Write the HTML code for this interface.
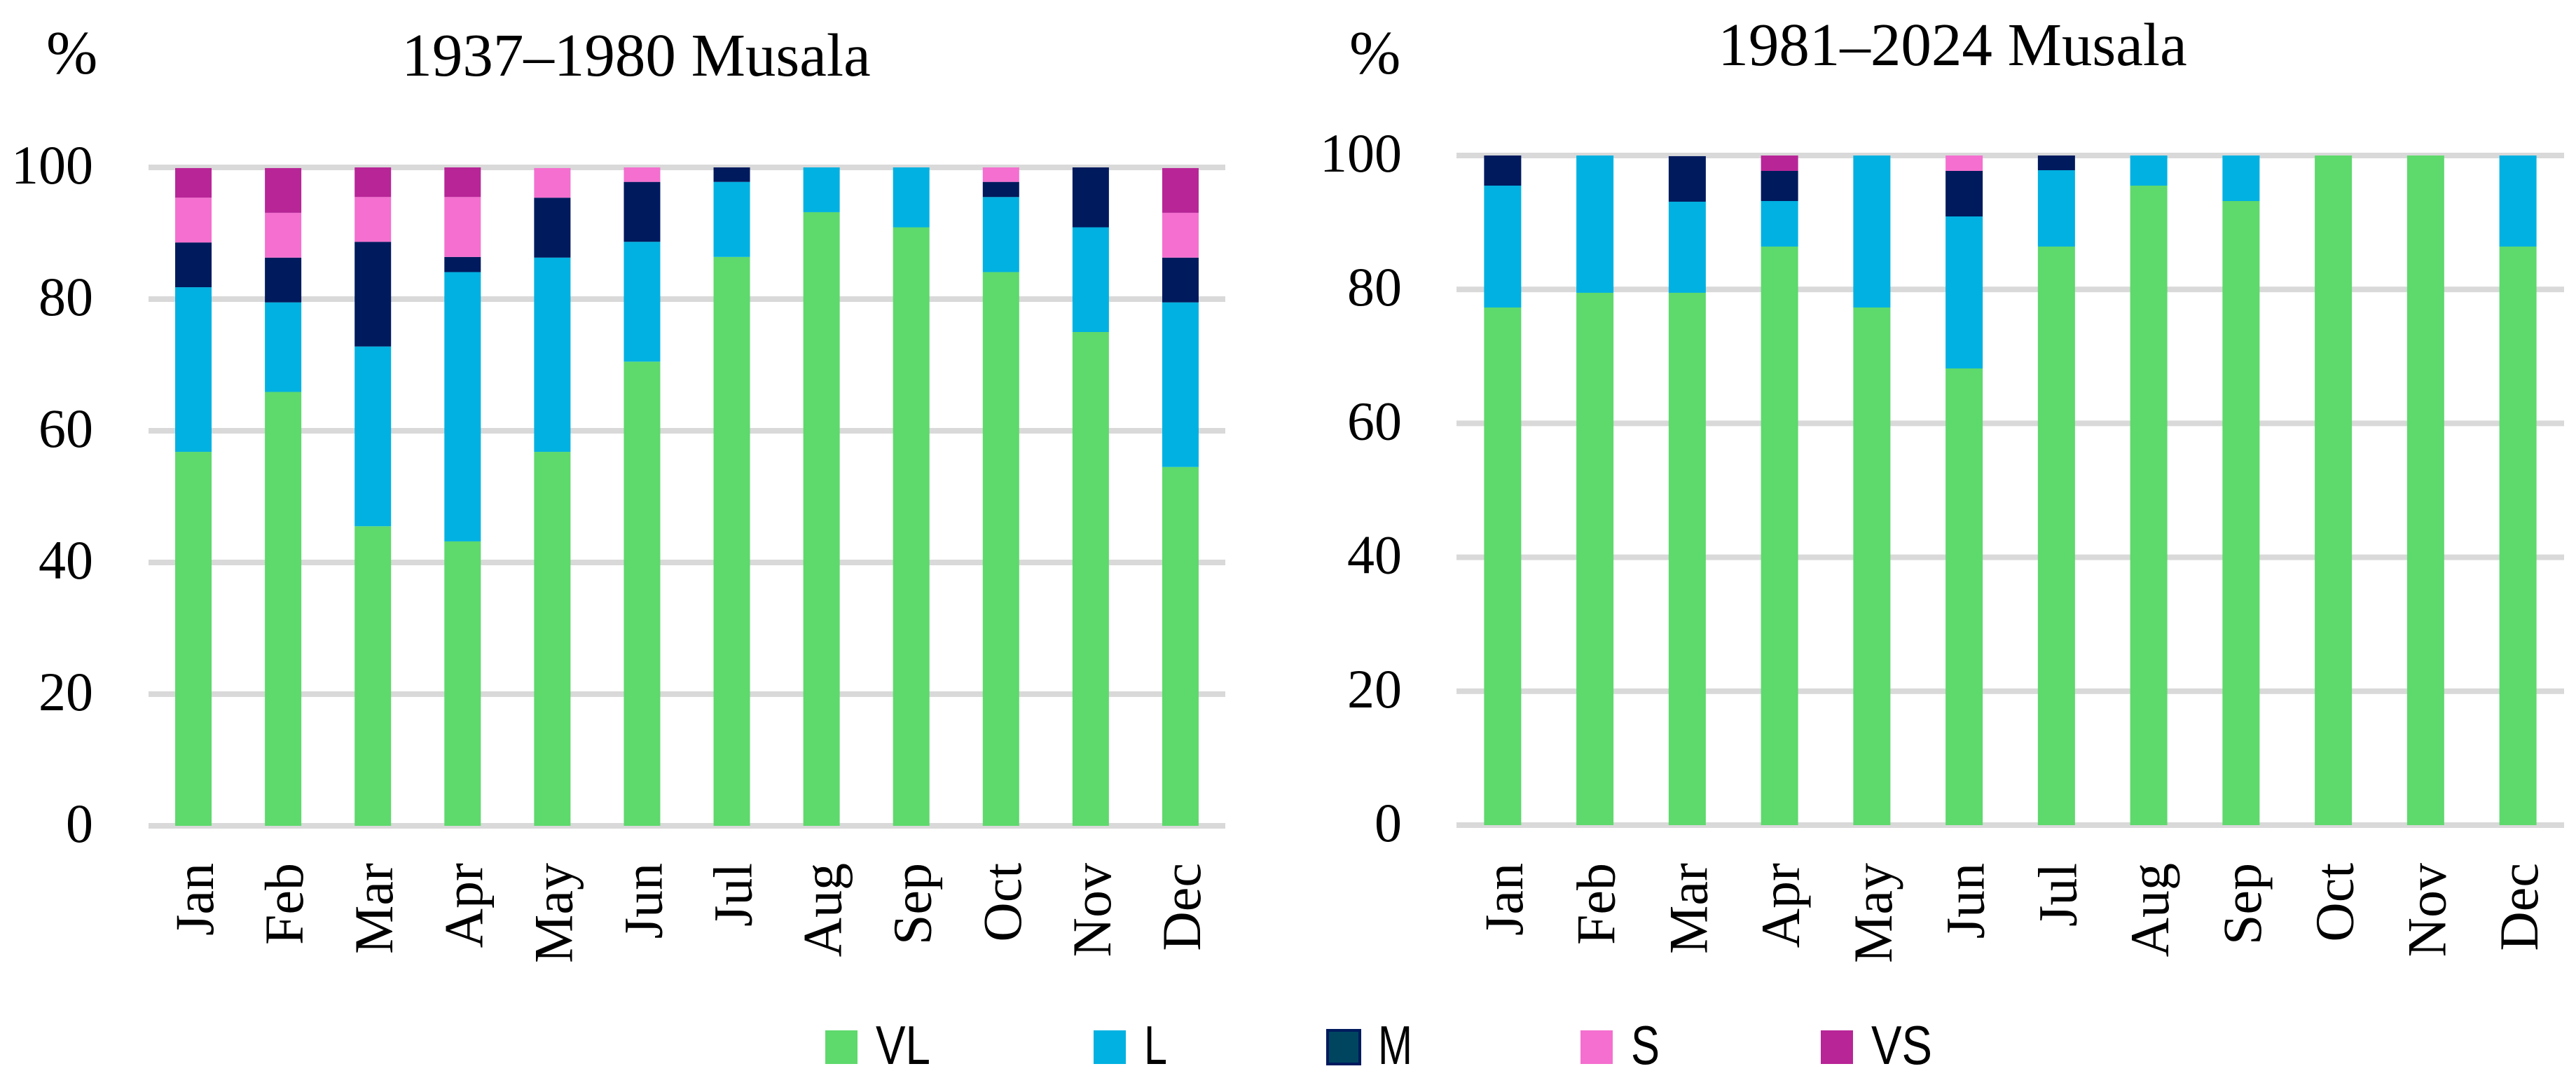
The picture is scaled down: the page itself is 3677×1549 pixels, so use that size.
<!DOCTYPE html>
<html><head><meta charset="utf-8"><style>
html,body{margin:0;padding:0;background:#fff;}
svg{display:block;}
text{font-family:"Liberation Serif",serif;fill:#000;}
.lg{font-family:"Liberation Sans",sans-serif;}
</style></head><body>
<svg id="svg" width="3677" height="1549" viewBox="0 0 3677 1549" xmlns="http://www.w3.org/2000/svg">
<text x="66" y="105" font-size="88">%</text>
<text x="908" y="108" font-size="87" text-anchor="middle">1937–1980 Musala</text>
<text x="1926" y="105" font-size="88">%</text>
<text x="2787" y="93" font-size="87" text-anchor="middle">1981–2024 Musala</text>
<g id="left"></g>
<g id="right"></g>
<g id="legend"></g>
</svg>
<script>
const months = ["Jan","Feb","Mar","Apr","May","Jun","Jul","Aug","Sep","Oct","Nov","Dec"];
const seriesNames = ["VL","L","M","S","VS"];
const yTicks = [0,20,40,60,80,100];
// 1937–1980
const leftVL = [56.8,65.9,45.5,43.2,56.8,70.5,86.4,93.2,90.9,84.1,75.0,54.5];
const leftL  = [25.0,13.6,27.3,40.9,29.5,18.2,11.4,6.8,9.1,11.4,15.9,25.0];
const leftM  = [6.8,6.8,15.9,2.3,9.1,9.1,2.3,0,0,2.3,9.1,6.8];
const leftS  = [6.8,6.8,6.8,9.1,4.5,2.3,0,0,0,2.3,0,6.8];
const leftVS = [4.5,6.8,4.5,4.5,0,0,0,0,0,0,0,6.8];
// 1981–2024
const rightVL = [77.3,79.5,79.5,86.4,77.3,68.2,86.4,95.5,93.2,100,100,86.4];
const rightL  = [18.2,20.5,13.6,6.8,22.7,22.7,11.4,4.5,6.8,0,0,13.6];
const rightM  = [4.5,0,6.8,4.5,0,6.8,2.3,0,0,0,0,0];
const rightS  = [0,0,0,0,0,2.3,0,0,0,0,0,0];
const rightVS = [0,0,0,2.3,0,0,0,0,0,0,0,0];

const colors = ["#5ed96c","#00b1e1","#001a5e","#f46fcf","#b82597"];
const NS = "http://www.w3.org/2000/svg";
function mk(tag, attrs, parent){const e=document.createElementNS(NS,tag);for(const k in attrs)e.setAttribute(k,attrs[k]);parent.appendChild(e);return e;}

function drawChart(g, cfg, series, prefix){
  const yScale = v => cfg.y0 - (v/100)*(cfg.y0-cfg.y100);
  const band = (cfg.x1-cfg.x0)/months.length;
  const xCenter = i => cfg.x0 + band*(i+0.5);
  yTicks.forEach(t=>{
    const l = mk("rect",{x:cfg.x0,y:yScale(t)-4,width:cfg.x1-cfg.x0,height:8,fill:"#d9d9d9"},g);
    
    
    const tx = mk("text",{x:cfg.labelX,y:yScale(t)+23,"font-size":78,"text-anchor":"end"},g);
    tx.textContent = t;
    
    
  });
  months.forEach((m,i)=>{
    let acc=0;
    series.forEach((s,k)=>{
      const v=s[i]; if(v<=0) return;
      const top=Math.min(acc+v,100);
      const r = mk("rect",{x:xCenter(i)-cfg.bw/2,y:yScale(top),width:cfg.bw,height:yScale(acc)-yScale(top),fill:colors[k]},g);
      
      
      acc=top;
    });
    const tx = mk("text",{x:0,y:0,"font-size":78,"text-anchor":"end",transform:"translate("+(xCenter(i)+28)+",1232) rotate(-90)"},g);
    tx.textContent=m;
    
    
  });
}
drawChart(document.getElementById("left"),{x0:212,x1:1749,y0:1179,y100:239,bw:52,labelX:133},[leftVL,leftL,leftM,leftS,leftVS],"left");
drawChart(document.getElementById("right"),{x0:2079,x1:3660,y0:1178,y100:222,bw:53,labelX:2001},[rightVL,rightL,rightM,rightS,rightVS],"right");

const legX = [1178,1561,1895,2256,2599];
const legW = [78,33,49,41,87];
const lg = document.getElementById("legend");
seriesNames.forEach((n,k)=>{
  const r = mk("rect",{x:legX[k],y:1471,width:46,height:48,fill:k===2?"#004560":colors[k],stroke:k===2?"#001a5e":"none","stroke-width":k===2?4:0},lg);
  
  
  const t = mk("text",{x:legX[k]+72,y:1519,"font-size":78,"class":"lg",textLength:legW[k],lengthAdjust:"spacingAndGlyphs"},lg);
  t.textContent=n;
  
  
});
</script>
</body></html>
